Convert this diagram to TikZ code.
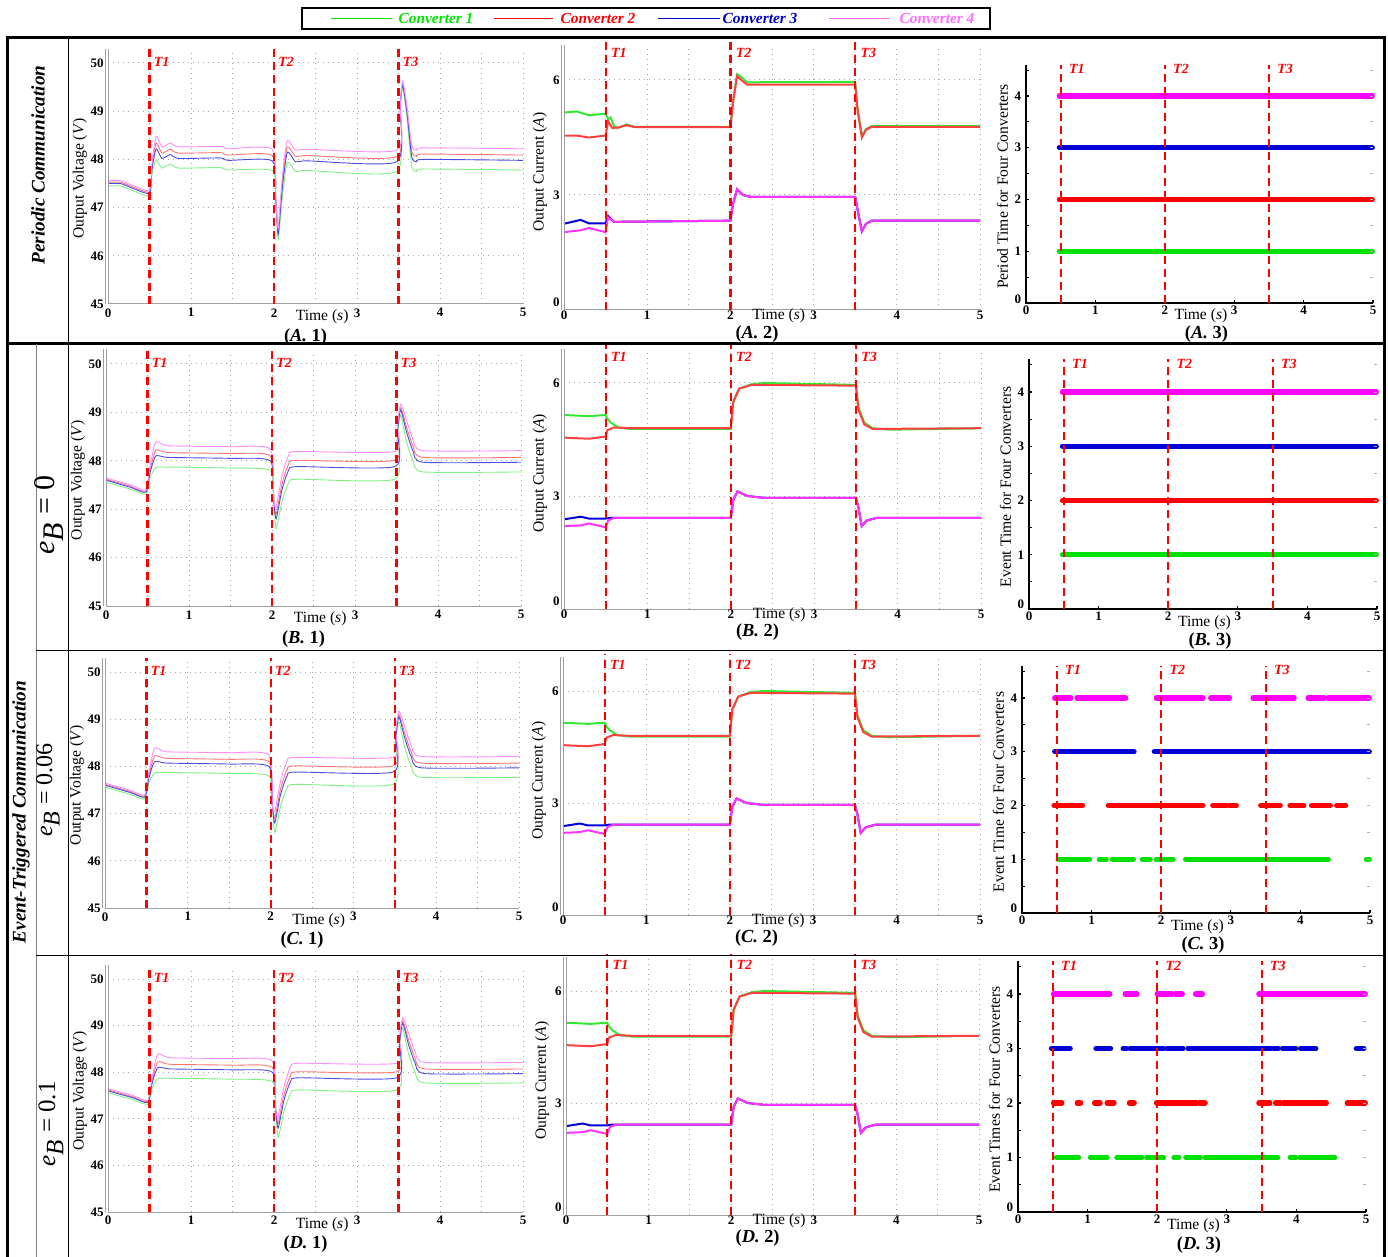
\documentclass[tikz,border=0pt]{standalone}
\usepackage{fontspec}
\setmainfont{Liberation Serif}

\definecolor{conv1}{RGB}{0,225,0}
\definecolor{conv2}{RGB}{255,0,0}
\definecolor{conv3}{RGB}{0,0,215}
\definecolor{conv4}{RGB}{255,0,255}
\definecolor{legend1}{RGB}{0,230,0}
\definecolor{legend3}{RGB}{0,0,200}
\definecolor{legend4}{RGB}{255,110,255}

\tikzset{
  grid line/.style={gray!70, dotted, line width=0.5pt},
  axis line/.style={gray!75, line width=0.5pt},
  box axis/.style={black, line width=0.6pt},
  event line/.style={red, line width=1.1pt, dash pattern=on 4pt off 2.5pt},
  event label/.style={red, anchor=west, inner sep=1pt, font=\fontsize{7}{8}\selectfont\bfseries\itshape},
  tick label/.style={inner sep=0.8pt, font=\fontsize{6.5}{7}\selectfont\bfseries},
  axis title/.style={inner sep=0pt, font=\fontsize{7.8}{8}\selectfont},
  panel caption/.style={inner sep=0pt, font=\fontsize{9.2}{10}\selectfont\bfseries},
  legend text/.style={inner sep=0pt, font=\fontsize{7.7}{8}\selectfont\bfseries\itshape},
  row title/.style={inner sep=0pt, font=\fontsize{9.6}{10}\selectfont\bfseries\itshape},
  vtrace/.style={line width=0.45pt},
  ctrace/.style={line width=1pt},
  event bar/.style={line width=2.6pt, line cap=round},
  frame line/.style={line width=1.5pt},
  cell line/.style={line width=0.5pt},
}

% voltage panel: x(0 s), x(5 s), y(45 V), y(50 V), row, traces
\newcommand{\voltpanel}[6]{%
  \pgfmathsetmacro\ux{(#2-#1)/10}%
  \pgfmathsetmacro\uy{(#3-#4)/10}%
  \begin{scope}[shift={(#1,#3)}, x=\ux pt, y=\uy pt, shift={(0,-45)}]
    \foreach \g in {46,...,50} \draw[grid line] (0,\g) -- (5,\g);
    \foreach \g in {0.5,1,...,5} \draw[grid line] (\g,45) -- (\g,50.25);
    #6
    \draw[axis line] (0,45) -- (5,45);
    \draw[axis line] (0,45) -- (0,50.3);
    \draw[axis line] (-0.025,45) -- (-0.025,50.3);
    \foreach \vv in {45,...,50} \node[tick label, anchor=east] (#5v-y\vv) at (-0.03,\vv) {\vv};
    \foreach \tm in {0,...,5} \node[tick label, anchor=north] (#5v-x\tm) at (\tm,44.95) {\tm};
    \foreach \tm/\n in {0.5/1,2/2,3.5/3} {
      \draw[event line] (\tm,45) -- (\tm,50.3);
      \node[event label, xshift=1pt] (#5v-T\n) at (\tm,50.02) {T\n};
    }
    \node[axis title, rotate=90] (#5v-ylab) at (-0.34,47.6) {Output Voltage (\textit{V})};
    \node[axis title] (#5v-time) at (2.58,44.73) {Time (\textit{s})};
    \node[panel caption] (#5v-cap) at (2.38,44.32) {(\textit{#5.} 1)};
  \end{scope}}

% current panel: x(0 s), x(5 s), y(0 A), y(6 A), row, traces
\newcommand{\currpanel}[6]{%
  \pgfmathsetmacro\ux{(#2-#1)/10}%
  \pgfmathsetmacro\uy{(#3-#4)/12}%
  \begin{scope}[shift={(#1,#3)}, x=\ux pt, y=\uy pt]
    \foreach \g in {3,6} \draw[grid line] (0,\g) -- (5,\g);
    \foreach \g in {0.5,1,...,5} \draw[grid line] (\g,0) -- (\g,6.9);
    #6
    \draw[axis line] (0,0) -- (5,0);
    \draw[axis line] (0,0) -- (0,6.9);
    \draw[axis line] (-0.025,0) -- (-0.025,6.9);
    \foreach \ii/\yy in {0/0.2,3/3,6/6} \node[tick label, anchor=east] (#5c-y\ii) at (-0.03,\yy) {\ii};
    \foreach \tm in {0,...,5} \node[tick label, anchor=north] (#5c-x\tm) at (\tm,0.02) {\tm};
    \foreach \tm/\n in {0.5/1,2/2,3.5/3} {
      \draw[event line] (\tm,0) -- (\tm,7.0);
      \node[event label, xshift=1.5pt] (#5c-T\n) at (\tm,6.7) {T\n};
    }
    \node[axis title, rotate=90] (#5c-ylab) at (-0.29,3.6) {Output Current (\textit{A})};
    \node[axis title] (#5c-time) at (2.58,-0.15) {Time (\textit{s})};
    \node[panel caption] (#5c-cap) at (2.32,-0.62) {(\textit{#5.} 2)};
  \end{scope}}

% event panel: x(0 s), x(5 s), y(0), y(4), row, y title, bars
\newcommand{\eventpanel}[7]{%
  \pgfmathsetmacro\ux{(#2-#1)/10}%
  \pgfmathsetmacro\uy{(#3-#4)/8}%
  \begin{scope}[shift={(#1,#3)}, x=\ux pt, y=\uy pt]
    #7
    \draw[box axis] (0,4.6) -- (0,0) -- (5,0);
    \foreach \tm in {1,...,5} \draw[box axis] (\tm,0) -- (\tm,0.06);
    \foreach \g in {0.5,1,...,4.5} {
      \draw[box axis] (0,\g) -- (0.05,\g);
      \draw[gray!60, line width=0.4pt] (5,\g) -- (4.96,\g);
    }
    \foreach \kk/\yy in {0/0.08,1/1,2/2,3/3,4/4} \node[tick label, anchor=east] (#5e-y\kk) at (-0.04,\yy) {\kk};
    \foreach \tm in {0,...,5} \node[tick label, anchor=north] (#5e-x\tm) at (\tm,-0.02) {\tm};
    \foreach \tm/\n in {0.5/1,2/2,3.5/3} {
      \draw[event line] (\tm,0) -- (\tm,4.6);
      \node[event label, xshift=3pt] (#5e-T\n) at (\tm,4.52) {T\n};
    }
    \node[axis title, rotate=90] (#5e-ylab) at (-0.34,2.25) {#6};
    \node[axis title] (#5e-time) at (2.52,-0.25) {Time (\textit{s})};
    \node[panel caption] (#5e-cap) at (2.6,-0.6) {(\textit{#5.} 3)};
  \end{scope}}

% voltage traces, periodic row
\newcommand{\vtraceP}[2]{%
  \draw[vtrace, #1] plot[smooth, tension=0.35] coordinates {
    (0,{47.5+(#2)/4}) (0.15,{47.5+(#2)/4}) (0.3,{47.4+(#2)/4}) (0.5,{47.3+(#2)/4})
    (0.53,{47.8+(#2)/2}) (0.58,{48.22+1.1*(#2)}) (0.65,{48.02+(#2)}) (0.75,{48.1+(#2)})
    (0.85,{48.02+(#2)}) (1.35,{48.03+(#2)}) (1.45,{47.98+(#2)}) (1.98,{47.97+(#2)})
    (2.02,47.2) (2.05,{46.45+(#2)/2}) (2.1,{47.4+(#2)}) (2.16,{48.15+(#2)})
    (2.26,{47.95+(#2)}) (2.4,{47.97+(#2)}) (3.48,{47.95+(#2)}) (3.52,49.1)
    (3.55,{49.55+(#2)/3}) (3.6,{49.0+(#2)/2}) (3.66,{48.05+(#2)}) (3.72,{47.95+(#2)})
    (3.8,{48.0+(#2)}) (5,{47.98+(#2)})};}
\newcommand{\vtracesP}{%
  \vtraceP{conv1!50}{-0.2}\vtraceP{conv2!55}{0.11}\vtraceP{conv3!70}{0}\vtraceP{conv4!45}{0.24}}

% voltage traces, event-triggered rows
\newcommand{\vtraceE}[2]{%
  \draw[vtrace, #1] plot[smooth, tension=0.35] coordinates {
    (0,{47.6+(#2)/5}) (0.1,{47.55+(#2)/5}) (0.3,{47.45+(#2)/5}) (0.48,{47.35+(#2)/5})
    (0.53,{47.75+(#2)/2}) (0.6,{48.1+1.2*(#2)}) (0.75,{48.07+(#2)}) (1.5,{48.05+(#2)})
    (1.98,{48.0+(#2)}) (2.02,47.2) (2.05,{46.8+(#2)}) (2.12,{47.4+1.2*(#2)})
    (2.2,{47.8+1.3*(#2)}) (2.3,{47.88+1.3*(#2)}) (3.48,{47.88+1.3*(#2)})
    (3.51,{48.6+(#2)/2}) (3.55,{49.05+(#2)/2}) (3.62,{48.6+(#2)}) (3.7,{48.2+(#2)})
    (3.82,{47.97+(#2)}) (5,{47.97+(#2)})};}
\newcommand{\vtracesE}{%
  \vtraceE{conv1!50}{-0.2}\vtraceE{conv2!55}{0.1}\vtraceE{conv3!70}{0}\vtraceE{conv4!45}{0.24}}

% current traces, periodic row
\newcommand{\currP}{%
  \draw[ctrace, conv1!80] plot coordinates {(0,5.15) (0.15,5.18) (0.3,5.08) (0.5,5.12) (0.53,4.98) (0.56,5.02) (0.6,4.8) (0.65,4.75) (0.75,4.84) (0.85,4.78) (2,4.78) (2.03,5.4) (2.08,6.15) (2.13,6.08) (2.2,5.94) (3.5,5.95) (3.53,5.2) (3.58,4.55) (3.63,4.72) (3.7,4.8) (5,4.8)};
  \draw[ctrace, conv2!75] plot coordinates {(0,4.55) (0.15,4.55) (0.3,4.5) (0.5,4.55) (0.53,4.92) (0.58,4.75) (0.65,4.76) (0.75,4.82) (0.85,4.77) (2,4.77) (2.03,5.4) (2.08,6.1) (2.13,6.0) (2.2,5.88) (3.5,5.88) (3.53,5.2) (3.58,4.5) (3.63,4.7) (3.7,4.78) (5,4.78)};
  \draw[ctrace, conv3] plot coordinates {(0,2.25) (0.2,2.35) (0.3,2.26) (0.5,2.26) (0.53,2.45) (0.6,2.3) (2,2.33) (2.03,2.75) (2.08,3.15) (2.15,3.0) (2.25,2.95) (3.5,2.95) (3.53,2.6) (3.58,2.05) (3.63,2.25) (3.7,2.33) (5,2.33)};
  \draw[ctrace, conv4!80] plot coordinates {(0,2.03) (0.2,2.08) (0.3,2.14) (0.5,2.03) (0.53,2.42) (0.6,2.3) (2,2.33) (2.03,2.75) (2.08,3.15) (2.15,3.0) (2.25,2.95) (3.5,2.95) (3.53,2.6) (3.58,2.05) (3.63,2.25) (3.7,2.33) (5,2.33)};}

% current traces, event-triggered rows
\newcommand{\currE}{%
  \draw[ctrace, conv1!80] plot coordinates {(0,5.15) (0.3,5.12) (0.5,5.15) (0.52,5.05) (0.56,4.95) (0.65,4.82) (0.8,4.78) (2,4.78) (2.03,5.5) (2.1,5.85) (2.25,5.97) (2.4,6.0) (3.5,5.95) (3.53,5.35) (3.6,4.95) (3.7,4.8) (3.9,4.76) (5,4.8)};
  \draw[ctrace, conv2!75] plot coordinates {(0,4.55) (0.3,4.52) (0.5,4.58) (0.52,4.75) (0.6,4.82) (0.8,4.8) (2,4.8) (2.03,5.5) (2.1,5.85) (2.25,5.95) (3.5,5.93) (3.53,5.3) (3.6,4.9) (3.7,4.78) (5,4.8)};
  \draw[ctrace, conv3] plot coordinates {(0,2.38) (0.2,2.45) (0.3,2.4) (0.5,2.4) (0.55,2.42) (2,2.42) (2.03,2.9) (2.08,3.12) (2.2,3.0) (2.4,2.95) (3.5,2.95) (3.53,2.7) (3.57,2.2) (3.63,2.35) (3.75,2.42) (5,2.42)};
  \draw[ctrace, conv4!80] plot coordinates {(0,2.2) (0.2,2.22) (0.3,2.27) (0.5,2.17) (0.53,2.35) (0.6,2.42) (2,2.42) (2.03,2.9) (2.08,3.12) (2.2,3.0) (2.4,2.95) (3.5,2.95) (3.53,2.7) (3.57,2.2) (3.63,2.35) (3.75,2.42) (5,2.42)};}

% event bars
\newcommand{\barsFull}{%
  \foreach \k/\col in {1/conv1,2/conv2,3/conv3,4/conv4} \draw[event bar, \col] (0.48,\k) -- (4.99,\k);}
\newcommand{\barsC}{%
  \foreach \sa/\sb in {0.47/0.70, 0.79/1.38, 1.40/1.49, 1.93/2.60, 2.71/2.98, 3.32/3.91, 4.11/4.34, 4.40/4.99}
    \draw[event bar, conv4] (\sa,4) -- (\sb,4);
  \foreach \sa/\sb in {0.47/1.61, 1.90/4.99}
    \draw[event bar, conv3] (\sa,3) -- (\sb,3);
  \foreach \sa/\sb in {0.46/0.63, 0.65/0.87, 1.24/2.60, 2.74/2.94, 2.98/3.08, 3.43/3.71, 3.85/4.05, 4.16/4.30, 4.33/4.43, 4.52/4.65}
    \draw[event bar, conv2] (\sa,2) -- (\sb,2);
  \foreach \sa/\sb in {0.52/0.97, 1.11/1.21, 1.30/1.60, 1.73/1.84, 1.93/2.17, 2.35/4.40, 4.95/4.99}
    \draw[event bar, conv1] (\sa,1) -- (\sb,1);}
\newcommand{\barsD}{%
  \foreach \sa/\sb in {0.51/1.32, 1.54/1.71, 2.00/2.21, 2.26/2.36, 2.55/2.65, 3.46/3.68, 3.70/4.99}
    \draw[event bar, conv4] (\sa,4) -- (\sb,4);
  \foreach \sa/\sb in {0.48/0.75, 1.12/1.33, 1.51/1.56, 1.61/2.09, 2.14/2.37, 2.44/3.63, 3.67/3.74, 3.80/3.99, 4.06/4.28, 4.86/4.97}
    \draw[event bar, conv3] (\sa,3) -- (\sb,3);
  \foreach \sa/\sb in {0.51/0.63, 0.85/0.90, 1.10/1.18, 1.28/1.38, 1.60/1.67, 1.99/2.57, 2.61/2.69, 3.46/3.62, 3.70/3.77, 3.81/4.43, 4.73/4.99}
    \draw[event bar, conv2] (\sa,2) -- (\sb,2);
  \foreach \sa/\sb in {0.55/0.87, 1.04/1.28, 1.42/1.71, 1.73/1.78, 1.85/2.09, 2.24/2.31, 2.41/2.62, 2.69/3.73, 3.91/3.99, 4.05/4.55}
    \draw[event bar, conv1] (\sa,1) -- (\sb,1);}

\begin{document}
\begin{tikzpicture}[x=0.5pt, y=-0.5pt]
  \useasboundingbox (0,0) rectangle (1388,1257);

  % legend
  \draw[line width=0.6pt] (302,8) rectangle (990,29);
  \foreach \k/\col/\xa/\xb/\xt in {1/legend1/331/392/436, 2/conv2/494/553/598, 3/legend3/658/720/760, 4/legend4/829/890/937} {
    \draw[\col, line width=0.8pt] (\xa,18.5) -- (\xb,18.5);
    \node[legend text, \col] (leg\k) at (\xt,18.5) {Converter \k};
  }

  % table frame
  \draw[frame line] (7,1257) -- (7,38) -- (1384,38) -- (1384,1257);
  \draw[frame line] (7,344) -- (1384,344);
  \draw[cell line] (68,38) -- (68,1257);
  \draw[cell line, gray] (36,344) -- (36,1257);
  \draw[cell line] (36,650) -- (1384,650);
  \draw[cell line] (36,955) -- (1384,955);

  % row titles
  \node[row title, rotate=90] (periodic) at (38,165) {Periodic Communication};
  \node[row title, rotate=90] (triggered) at (21,812) {Event-Triggered Communication};
  \node[inner sep=0pt, rotate=90, font=\fontsize{15}{16}\selectfont] (eb0) at (49,515) {\textit{e}$_{\textit{B}}$ = 0};
  \node[inner sep=0pt, rotate=90, font=\fontsize{12}{13}\selectfont] (eb6) at (48,790) {\textit{e}$_{\textit{B}}$ = 0.06};
  \node[inner sep=0pt, rotate=90, font=\fontsize{12.5}{13}\selectfont] (eb1) at (51,1124) {\textit{e}$_{\textit{B}}$ = 0.1};

  % output voltage
  \voltpanel{108}{523}{304}{63}{A}{\vtracesP}
  \voltpanel{106}{521}{606}{364}{B}{\vtracesE}
  \voltpanel{105}{519}{908}{672}{C}{\vtracesE}
  \voltpanel{108}{523}{1212}{979}{D}{\vtracesE}

  % output current
  \currpanel{564}{980}{310}{80}{A}{\currP}
  \currpanel{564}{981}{609}{383}{B}{\currE}
  \currpanel{563}{980}{915}{691}{C}{\currE}
  \currpanel{566}{979}{1215}{991}{D}{\currE}

  % period / event times
  \eventpanel{1026}{1373}{303}{96}{A}{Period Time for Four Converters}{\barsFull}
  \eventpanel{1029}{1377}{609}{392}{B}{Event Time for Four Converters}{\barsFull}
  \eventpanel{1022}{1370}{913}{698}{C}{Event Time for Four Converters}{\barsC}
  \eventpanel{1018}{1366}{1212}{994}{D}{Event Times for Four Converters}{\barsD}
\end{tikzpicture}
\end{document}
